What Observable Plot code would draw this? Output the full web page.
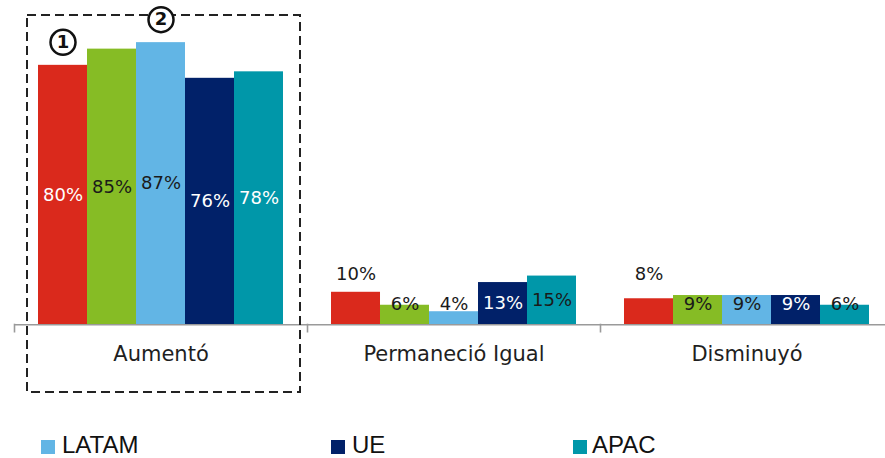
<!DOCTYPE html>
<html><head><meta charset="utf-8">
<script src="https://cdn.jsdelivr.net/npm/d3@7"></script>
<script src="https://cdn.jsdelivr.net/npm/@observablehq/plot@0.6"></script>
<style>
html,body{margin:0;padding:0;background:#fff;overflow:hidden}
#wrap{position:relative;width:885px;height:458px;overflow:hidden;background:#fff}
#wrap svg{position:absolute;left:0;top:0}
.leg{position:absolute;top:435px;height:20px;font-family:"Liberation Sans",Arial,sans-serif;font-size:24px;line-height:20px;color:#111;white-space:nowrap}
.sw{position:absolute;top:440px;width:14px;height:14px}
</style></head><body><div id="wrap"></div>
<script>
// ---- data ----
const groups = ["Aumentó", "Permaneció Igual", "Disminuyó"];
const series = ["Serie 1", "Serie 2", "LATAM", "UE", "APAC"];
const colors = ["#DA291C", "#86BC25", "#62B5E5", "#012169", "#0097A9"];
const serie1 = [80, 10, 8];
const serie2 = [85, 6, 9];
const latam  = [87, 4, 9];
const ue     = [76, 13, 9];
const apac   = [78, 15, 6];
const legendSeries = ["LATAM", "UE", "APAC"];
const markers = [
  {group: "Aumentó", series: "Serie 1", label: "1"},
  {group: "Aumentó", series: "LATAM", label: "2"}
];

const valueRows = [serie1, serie2, latam, ue, apac];
const data = [];
groups.forEach((g, i) => series.forEach((s, j) => data.push({group: g, series: s, value: valueRows[j][i]})));
const valueOf = (g, s) => data.find(d => d.group === g && d.series === s).value;

// label placement rule: centred in tall bars; small first-series bars labelled above; others kept near the base
const labelY = d => d.value >= 20 ? d.value / 2 : (d.series === series[0] ? 15.6 : Math.max(d.value / 2, 6.3));
const isWhite = d => d.value >= 20 ? (d.series !== series[1] && d.series !== series[2]) : (d.series === series[3]);

const chart = Plot.plot({
  width: 885, height: 420,
  marginTop: 0, marginLeft: 14, marginRight: 0, marginBottom: 95.8,
  style: {fontFamily: "'DejaVu Sans', sans-serif", fontSize: "21px", background: "white", color: "#1f1f1f"},
  fx: {domain: groups, range: [14, 893], padding: 0, round: false, label: null, axis: "bottom", tickSize: 0, tickPadding: 21},
  x: {domain: series, paddingInner: 0, paddingOuter: 0.49, round: false, axis: null},
  y: {domain: [0, 100], axis: null},
  color: {domain: series, range: colors},
  marks: [
    Plot.barY(data, {fx: "group", x: "series", y: "value", fill: "series"}),
    Plot.ruleY([0], {stroke: "#9a9a9a", strokeWidth: 1.6}),
    Plot.frame({anchor: "left", stroke: "#9a9a9a", strokeWidth: 1.6, insetTop: 324, insetBottom: -7}),
    Plot.text(data.filter(isWhite), {fx: "group", x: "series", y: labelY, text: d => d.value + "%", fill: "white", fontSize: 18}),
    Plot.text(data.filter(d => !isWhite(d)), {fx: "group", x: "series", y: labelY, text: d => d.value + "%", fill: "#1a1a1a", fontSize: 18}),
    Plot.rect([{group: groups[0]}], {fx: "group", fill: "none", stroke: "#222", strokeWidth: 2, strokeDasharray: "9,5",
      insetLeft: 13, insetRight: 7, insetTop: 15, insetBottom: -67.8}),
    Plot.dot(markers, {fx: "group", x: "series", y: m => valueOf(m.group, m.series), dy: -23, r: 12.5,
      fill: "white", stroke: "#111", strokeWidth: 2.5}),
    Plot.text(markers, {fx: "group", x: "series", y: m => valueOf(m.group, m.series), dy: -23, text: "label",
      fontWeight: "bold", fontSize: 18, fill: "#111"})
  ]
});
const wrap = document.getElementById("wrap");
wrap.appendChild(chart);

// legend (HTML, below the chart)
const legendPos = [[41, 62], [331, 352], [573, 592]];
legendSeries.forEach((s, i) => {
  const sw = document.createElement("div");
  sw.className = "sw";
  sw.style.left = legendPos[i][0] + "px";
  sw.style.background = colors[series.indexOf(s)];
  wrap.appendChild(sw);
  const t = document.createElement("div");
  t.className = "leg";
  t.style.left = legendPos[i][1] + "px";
  t.textContent = s;
  wrap.appendChild(t);
});
</script></body></html>
